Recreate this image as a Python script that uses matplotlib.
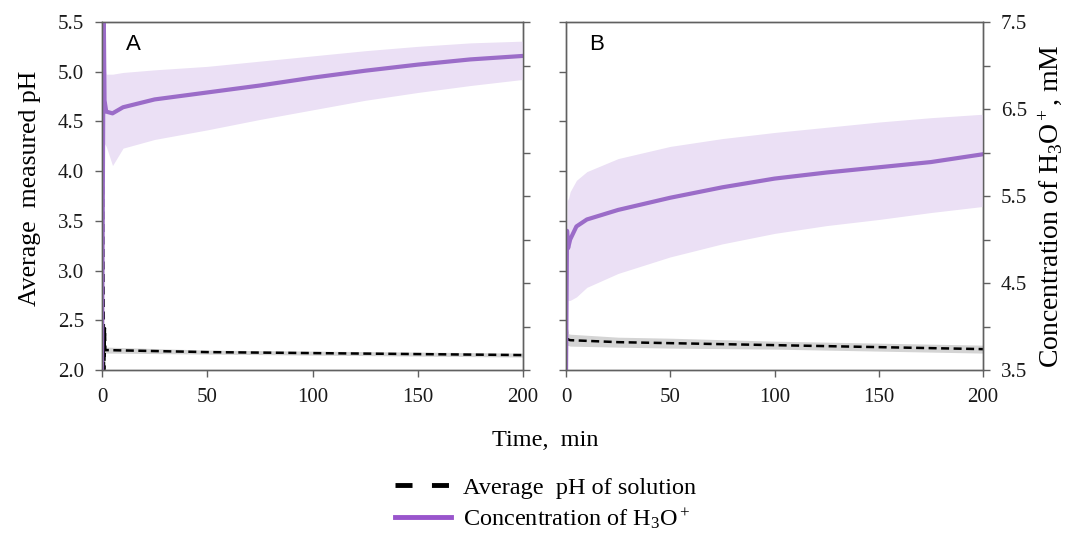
import numpy as np
import matplotlib
matplotlib.use("Agg")
import matplotlib.pyplot as plt
from matplotlib.lines import Line2D

plt.rcParams['font.family'] = ['Liberation Serif', 'DejaVu Serif']
plt.rcParams['mathtext.fontset'] = 'custom'
plt.rcParams['mathtext.rm'] = 'Liberation Serif'
plt.rcParams['mathtext.it'] = 'Liberation Serif:italic'
plt.rcParams['mathtext.default'] = 'regular'

# ---- Panel A : H3O+ concentration (mM, right axis) ----
time_a_conc = [0, 0.8, 1.2, 2, 5, 10, 25, 50, 75, 100, 125, 150, 175, 200]
conc_a      = [3.4, 7.7, 6.6, 6.47, 6.45, 6.52, 6.61, 6.69, 6.77, 6.86, 6.94, 7.01, 7.07, 7.11]
conc_a_hi   = [3.4, 7.7, 7.0, 6.90, 6.90, 6.92, 6.95, 6.99, 7.05, 7.11, 7.17, 7.22, 7.26, 7.28]
conc_a_lo   = [3.4, 7.0, 6.1, 6.07, 5.85, 6.05, 6.15, 6.26, 6.38, 6.49, 6.60, 6.69, 6.77, 6.84]

# ---- Panel A : average pH (left axis) ----
time_a_ph = [0, 1.0, 1.4, 1.6, 2.5, 50, 100, 150, 200]
ph_a      = [5.8, 1.9, 2.42, 2.20, 2.20, 2.18, 2.17, 2.16, 2.15]
ph_a_err  = [0.0, 0.0, 0.0, 0.03, 0.03, 0.02, 0.02, 0.02, 0.02]

# ---- Panel B : H3O+ concentration ----
time_b_conc = [0, 0.5, 1, 2, 5, 10, 25, 50, 75, 100, 125, 150, 175, 200]
conc_b      = [3.4, 5.1, 4.9, 5.0, 5.15, 5.23, 5.34, 5.48, 5.60, 5.70, 5.77, 5.83, 5.89, 5.98]
conc_b_hi   = [3.4, 5.5, 5.45, 5.55, 5.68, 5.78, 5.93, 6.07, 6.16, 6.23, 6.29, 6.35, 6.40, 6.44]
conc_b_lo   = [3.4, 4.3, 4.3, 4.30, 4.34, 4.45, 4.61, 4.80, 4.95, 5.07, 5.16, 5.23, 5.31, 5.38]

# ---- Panel B : average pH ----
time_b_ph = [0, 0.6, 2, 25, 50, 100, 150, 200]
ph_b      = [2.57, 2.31, 2.30, 2.28, 2.27, 2.25, 2.23, 2.21]
ph_b_err  = [0.0, 0.06, 0.06, 0.05, 0.05, 0.04, 0.04, 0.04]

x_ticks = [0, 50, 100, 150, 200]
ph_ticks = [2.0, 2.5, 3.0, 3.5, 4.0, 4.5, 5.0, 5.5]
ph_tick_labels = ["2.0", "2.5", "3.0", "3.5", "4.0", "4.5", "5.0", "5.5"]
conc_ticks = [3.5, 4.0, 4.5, 5.0, 5.5, 6.0, 6.5, 7.0, 7.5]
conc_tick_labels = ["3.5", "", "4.5", "", "5.5", "", "6.5", "", "7.5"]

purple = "#9b6cc8"
purple_band = "#ebe0f5"
grey_band = "#d4d4d4"
spine_col = "#606060"

W, H = 1078, 533
fig = plt.figure(figsize=(W / 100, H / 100), dpi=100)

ax_a = fig.add_axes([102 / W, 1 - 370 / H, (523 - 102) / W, (370 - 22) / H])
ax_b = fig.add_axes([566 / W, 1 - 370 / H, (983 - 566) / W, (370 - 22) / H])

panels = [
    (ax_a, "A", time_a_conc, conc_a, conc_a_lo, conc_a_hi, time_a_ph, ph_a, ph_a_err, True),
    (ax_b, "B", time_b_conc, conc_b, conc_b_lo, conc_b_hi, time_b_ph, ph_b, ph_b_err, False),
]

for ax, tag, tc, c, clo, chi, tp, ph, pherr, is_left in panels:
    tw = ax.twinx()

    ph = np.array(ph)
    pherr = np.array(pherr)
    ax.fill_between(tp, ph - pherr, ph + pherr, color=grey_band, lw=0)
    ax.plot(tp, ph, color="black", lw=1.8, dashes=(3.2, 1.8))

    tw.fill_between(tc, clo, chi, color=purple_band, lw=0)
    tw.plot(tc, c, color=purple, lw=3.0)

    ax.set_xlim(0, 200)
    ax.set_ylim(2.0, 5.5)
    tw.set_ylim(3.5, 7.5)

    ax.set_xticks(x_ticks, labels=[str(v) for v in x_ticks])
    if is_left:
        ax.set_yticks(ph_ticks, labels=ph_tick_labels)
        tw.set_yticks(conc_ticks, labels=[""] * len(conc_ticks))
    else:
        ax.set_yticks(ph_ticks, labels=[""] * len(ph_ticks))
        tw.set_yticks(conc_ticks, labels=conc_tick_labels)

    for a in (ax, tw):
        for s in a.spines.values():
            s.set_color(spine_col)
            s.set_linewidth(1.0)
        a.tick_params(direction="out", length=5, width=1, color=spine_col,
                      labelsize=15, pad=8, labelcolor="#1a1a1a")

    ax.text(0.074, 0.934, tag, transform=ax.transAxes, ha="center", va="center",
            fontsize=16, family=["Liberation Sans", "DejaVu Sans"])

fig.text(30 / W, 1 - 188 / H, "Average  measured pH", rotation=90,
         ha="center", va="center", fontsize=18.5)
fig.text(1050 / W, 1 - 206 / H, "Concentration of H$_3$O$^+$, mM", rotation=90,
         ha="center", va="center", fontsize=20)
fig.text(545 / W, 1 - 440 / H, "Time,  min", ha="center", va="center", fontsize=17.5)

handles = [
    Line2D([], [], color="black", lw=3.5, dashes=(3.5, 4)),
    Line2D([], [], color="#9955cc", lw=3.5),
]
fig.legend(handles, ["Average  pH of solution", "Concentration of H$_3$O$^+$"],
           loc="center", bbox_to_anchor=(546 / W, 1 - 504 / H), frameon=False,
           fontsize=17.5, handlelength=2.3, handletextpad=0.5, labelspacing=0.3)

fig.savefig("out.png", dpi=100)
